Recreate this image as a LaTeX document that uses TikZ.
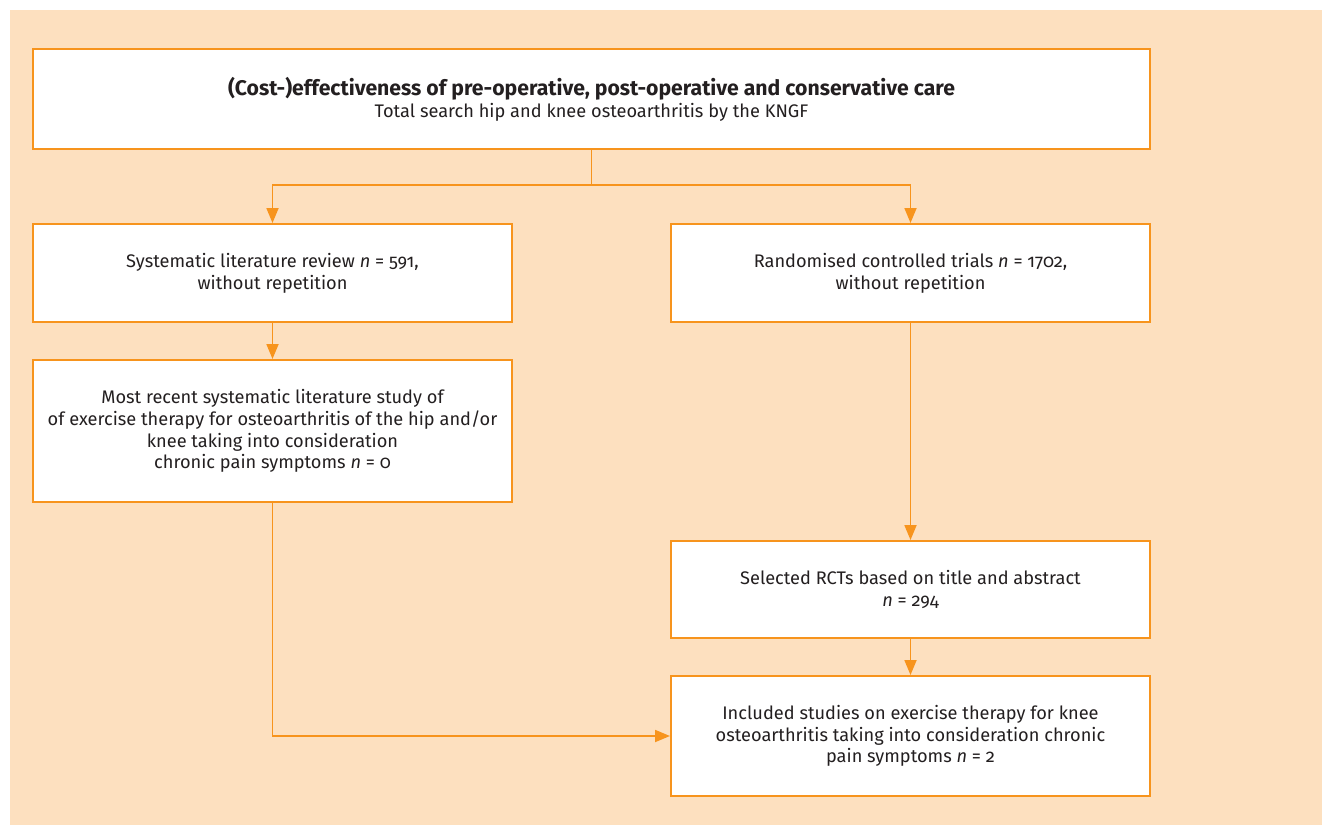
\documentclass[tikz,border=0pt]{standalone}
\usepackage{fontspec}
\setmainfont{Fira Sans}[Numbers=OldStyle]
\usetikzlibrary{arrows.meta}
\definecolor{peach}{HTML}{FDE0BF}
\definecolor{flowline}{HTML}{F7941D}
\definecolor{ink}{HTML}{231F20}
\tikzset{
  box/.style={draw=flowline, line width=2pt, fill=white, anchor=north west,
    align=center, inner sep=0pt, text=ink, font=\fontsize{18.2}{21.8}\selectfont},
  conn/.style={draw=flowline, line width=1.8pt},
  arr/.style={conn, -{Triangle[length=15pt,width=12pt]}}
}
\begin{document}
\begin{tikzpicture}[x=1pt,y=-1pt]
\useasboundingbox (0,0) rectangle (1322,825);
\fill[peach] (9.5,10) rectangle (1322,825);

\node[box, minimum width=1117pt, minimum height=100pt] (top) at (32,48)
  {\textbf{\fontsize{21.2}{23}\selectfont (Cost-)effectiveness of pre-operative, post-operative and conservative care}\\
   Total search hip and knee osteoarthritis by the KNGF};
\node[box, minimum width=479pt, minimum height=98pt] (slr) at (32,223)
  {Systematic literature review \textit{n} = 591,\\ without repetition};
\node[box, minimum width=479pt, minimum height=98pt] (rct) at (670,223)
  {Randomised controlled trials \textit{n} = 1702,\\ without repetition};
\node[box, minimum width=479pt, minimum height=142pt] (recent) at (32,359)
  {Most recent systematic literature study of\\
   of exercise therapy for osteoarthritis of the hip and/or\\
   knee taking into consideration\\
   chronic pain symptoms \textit{n} = 0};
\node[box, minimum width=479pt, minimum height=97pt] (sel) at (670,540)
  {Selected RCTs based on title and abstract\\ \textit{n} = 294};
\node[box, minimum width=479pt, minimum height=120pt] (inc) at (670,675)
  {Included studies on exercise therapy for knee\\
   osteoarthritis taking into consideration chronic\\
   pain symptoms \textit{n} = 2};

\coordinate (split) at (top.south |- 0,185);
\draw[conn] (top.south) -- (split);
\draw[arr] (split) -| (slr.north);
\draw[arr] (split) -| (rct.north);
\draw[arr] (slr.south) -- (recent.north);
\draw[arr] (rct.south) -- (sel.north);
\draw[arr] (sel.south) -- (inc.north);
\draw[arr] (recent.south) |- (inc.west);
\end{tikzpicture}
\end{document}
